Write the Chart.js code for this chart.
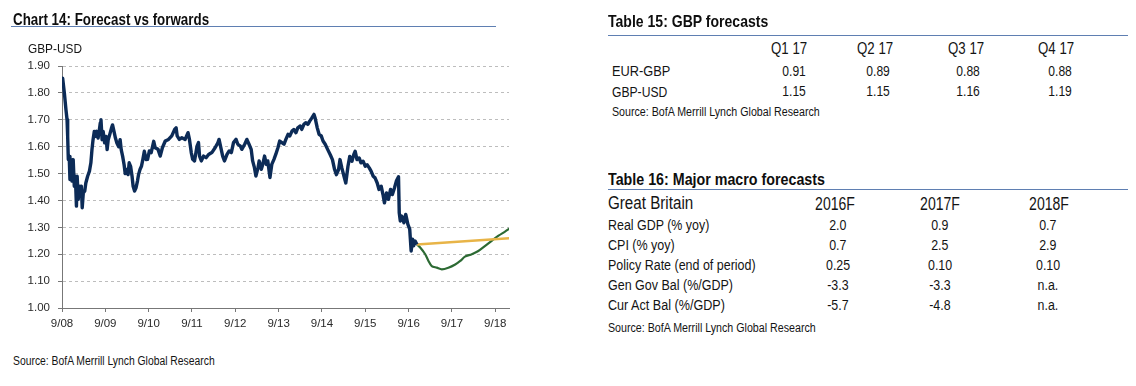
<!DOCTYPE html>
<html><head><meta charset="utf-8">
<script src="https://cdn.jsdelivr.net/npm/chart.js@4.4.1/dist/chart.umd.min.js"></script>
<style>
html,body{margin:0;padding:0;background:#fff;width:1136px;height:386px;overflow:hidden;}
body{position:relative;font-family:'Liberation Sans',Arial,sans-serif;color:#141414;}
.t{position:absolute;white-space:nowrap;line-height:1;}
.b{font-weight:bold;color:#0e0e0e;}
.rule{position:absolute;height:0;border-top:1.5px solid #5f7fb2;}
#c{position:absolute;left:0;top:0;}
</style></head><body>
<canvas id="c" width="520" height="345"></canvas>
<div class="rule" style="left:11px;top:26px;width:485px"></div>
<div class="rule" style="left:608px;top:35px;width:520px"></div>
<div class="rule" style="left:608px;top:188.5px;width:520px"></div>
<div id="texts"></div>
<script>
// ---- chart data (months since Sep 2008) ----
const tickLabels = ['9/08','9/09','9/10','9/11','9/12','9/13','9/14','9/15','9/16','9/17','9/18'];
const spotX = [0,0.18,0.65,1.1,1.4,1.57,1.75,2.0,2.2,2.5,2.77,3.1,3.4,3.7,4.0,4.2,4.5,4.8,5.1,5.35,5.6,5.9,6.3,6.6,7.1,7.6,8.0,8.3,8.6,8.95,9.2,9.6,10.0,10.3,10.6,10.8,11.1,11.4,11.8,12.2,12.5,12.8,13.2,13.7,14.0,14.4,14.8,15.2,15.7,16.1,16.4,16.8,17.2,17.5,17.9,18.3,18.6,19.0,19.4,19.7,20.1,20.5,20.9,21.2,21.6,22.0,22.3,22.8,23.3,23.7,24.2,24.7,25.4,25.8,26.6,27.2,27.8,28.6,29.5,30.4,31.2,31.6,31.9,32.5,33.2,34.1,34.9,35.3,35.8,36.2,36.7,37.4,37.8,38.1,38.6,39.2,39.9,40.6,41.5,42.4,43.2,43.5,43.9,44.5,45.0,45.7,46.3,46.9,47.5,48.2,48.7,49.4,49.8,50.6,51.2,51.8,52.4,52.8,53.3,53.7,54.3,54.6,55.2,55.6,56.1,56.6,57.0,57.6,58.1,58.7,59.2,59.8,60.3,60.9,61.5,62.0,62.6,63.1,63.7,64.2,64.8,65.3,66.0,66.4,67.0,67.5,68.1,68.6,69.2,69.8,70.1,70.7,71.2,71.8,72.3,72.9,73.6,74.3,74.9,75.5,76.0,76.6,77.0,77.5,78.1,78.6,79.2,79.7,80.3,80.8,81.2,81.7,82.3,82.8,83.4,84.0,84.5,85.1,85.6,86.2,86.7,87.3,87.8,88.4,88.9,89.3,89.9,90.4,91.0,91.5,92.1,92.6,93.2,93.4,93.7,94.1,94.7,95.2,95.8,96.3,96.7,97.1,97.4,97.8,98.3];
const spotY = [1.85,1.855,1.80,1.737,1.70,1.638,1.552,1.564,1.478,1.552,1.472,1.552,1.453,1.49,1.379,1.49,1.404,1.453,1.428,1.453,1.373,1.428,1.435,1.465,1.49,1.509,1.54,1.589,1.626,1.657,1.638,1.657,1.632,1.657,1.688,1.70,1.626,1.657,1.614,1.638,1.589,1.626,1.644,1.669,1.681,1.657,1.632,1.614,1.60,1.626,1.589,1.564,1.533,1.50,1.515,1.496,1.54,1.527,1.49,1.453,1.435,1.447,1.472,1.496,1.515,1.527,1.546,1.583,1.552,1.553,1.584,1.578,1.62,1.596,1.59,1.565,1.596,1.621,1.627,1.64,1.664,1.67,1.64,1.627,1.633,1.627,1.652,1.627,1.578,1.553,1.547,1.602,1.615,1.565,1.547,1.565,1.559,1.571,1.578,1.596,1.615,1.627,1.602,1.565,1.547,1.571,1.584,1.578,1.615,1.627,1.609,1.602,1.59,1.609,1.627,1.609,1.59,1.547,1.522,1.491,1.522,1.547,1.516,1.534,1.565,1.534,1.547,1.485,1.534,1.553,1.571,1.596,1.621,1.615,1.609,1.627,1.646,1.64,1.658,1.664,1.652,1.67,1.677,1.664,1.683,1.689,1.683,1.695,1.707,1.72,1.707,1.67,1.646,1.64,1.621,1.609,1.589,1.57,1.552,1.515,1.496,1.515,1.552,1.521,1.49,1.465,1.527,1.564,1.546,1.57,1.583,1.552,1.558,1.54,1.546,1.527,1.533,1.521,1.509,1.49,1.484,1.465,1.441,1.453,1.422,1.391,1.428,1.404,1.441,1.422,1.447,1.472,1.488,1.354,1.323,1.342,1.317,1.348,1.311,1.293,1.212,1.256,1.231,1.249,1.236];
const forwardX = [98.3,124];
const forwardY = [1.236,1.26];
const forecastX = [98.3,99.2,100.6,101.5,102.4,103.8,105.2,107.0,108.9,110.3,111.6,113.5,115.3,117.2,119.0,120.9,122.7,124.0];
const forecastY = [1.236,1.225,1.20,1.175,1.156,1.150,1.144,1.150,1.162,1.175,1.191,1.200,1.212,1.231,1.250,1.269,1.284,1.296];
const yTicks = [1.0,1.1,1.2,1.3,1.4,1.5,1.6,1.7,1.8,1.9];

const pts = (xs, ys) => xs.map((x, i) => ({x, y: ys[i]}));
const FONT = "'Liberation Sans',Arial,sans-serif";

new Chart(document.getElementById('c'), {
  type: 'line',
  data: { datasets: [
    { data: pts(spotX, spotY), borderColor: '#0c2b57', borderWidth: 3.4, pointRadius: 0, tension: 0, borderJoinStyle: 'round' },
    { data: pts(forwardX, forwardY), borderColor: '#e8b447', borderWidth: 2.5, pointRadius: 0, tension: 0 },
    { data: pts(forecastX, forecastY), borderColor: '#2c6a33', borderWidth: 2.2, pointRadius: 0, tension: 0.3 }
  ]},
  options: {
    responsive: false, animation: false,
    layout: { padding: { left: 0, right: 11, top: 66, bottom: 13 } },
    plugins: { legend: { display: false }, tooltip: { enabled: false } },
    scales: {
      x: {
        type: 'linear', min: 0, max: 123.8,
        afterBuildTicks: s => { s.ticks = tickLabels.map((_, i) => ({ value: i * 12 })); },
        afterFit: s => { s.height = 24; },
        ticks: { callback: v => tickLabels[Math.round(v / 12)], maxRotation: 0, autoSkip: false, padding: 5, color: '#2a2a2a', font: { family: FONT, size: 11.5 } },
        grid: { drawOnChartArea: false, drawTicks: true, tickLength: 4, color: '#777', tickColor: '#777' },
        border: { color: '#777', width: 1 }
      },
      y: {
        min: 1.0, max: 1.9,
        afterBuildTicks: s => { s.ticks = yTicks.map(v => ({ value: v })); },
        afterFit: s => { s.width = 62; },
        ticks: { callback: v => v.toFixed(2), padding: 8, color: '#2a2a2a', font: { family: FONT, size: 11.5 } },
        grid: { color: '#bdbdbd', tickLength: 4, tickColor: '#777', tickBorderDash: [4, 0] },
        border: { color: '#777', width: 1, dash: [3, 3] }
      }
    }
  }
});

// ---- text labels ----
const T = document.getElementById('texts');
function place(text, x, cy, size, o = {}) {
  const d = document.createElement('div');
  d.className = 't' + (o.bold ? ' b' : '');
  d.textContent = text;
  d.style.fontSize = size + 'px';
  d.style.left = x + 'px';
  d.style.top = (cy - 0.49 * size) + 'px';
  T.appendChild(d);
  let sx = o.sx || 0.82;
  if (o.w) sx = o.w / d.offsetWidth;
  d.style.transformOrigin = '0 0';
  if (o.center) d.style.transform = `translateX(${-d.offsetWidth * sx / 2}px) scaleX(${sx})`;
  else d.style.transform = `scaleX(${sx})`;
}
place('Chart 14: Forecast vs forwards', 12.5, 19, 16.5, { bold: true, w: 196 });
place('GBP-USD', 28, 49.5, 12.5, { w: 54 });
place('Source: BofA Merrill Lynch Global Research', 13, 360.5, 12, { w: 202 });

place('Table 15: GBP forecasts', 608, 21, 16.5, { bold: true, w: 160 });
const t15Cols = ['Q1 17','Q2 17','Q3 17','Q4 17'];
const t15HeadX = [788.8, 874.7, 965.8, 1055.8];
const t15ValX = [794, 878.3, 968.3, 1060];
t15Cols.forEach((c, i) => place(c, t15HeadX[i], 48.3, 17, { center: true, sx: 0.78 }));
const t15Rows = [['EUR-GBP', ['0.91','0.89','0.88','0.88'], 70.5], ['GBP-USD', ['1.15','1.15','1.16','1.19'], 91]];
t15Rows.forEach(r => {
  place(r[0], 612, r[2], 15, { w: r[0] === 'EUR-GBP' ? 58 : 55 });
  r[1].forEach((v, i) => place(v, t15ValX[i], r[2], 15.5, { center: true, sx: 0.78 }));
});
place('Source:  BofA Merrill Lynch Global Research', 612, 111.5, 12, { w: 208 });

place('Table 16: Major macro forecasts', 608, 179.5, 16.5, { bold: true, w: 217 });
place('Great Britain', 608.3, 203.5, 17.5, { w: 85 });
const t16Head = ['2016F','2017F','2018F'];
const t16HeadX = [835, 940, 1049];
const t16ValX = [838, 940, 1048];
t16Head.forEach((c, i) => place(c, t16HeadX[i], 203.5, 18, { center: true, sx: 0.78 }));
const t16Rows = [
  ['Real GDP (% yoy)', ['2.0','0.9','0.7'], 224.5, 101],
  ['CPI (% yoy)', ['0.7','2.5','2.9'], 245, 67],
  ['Policy Rate (end of period)', ['0.25','0.10','0.10'], 264.5, 148],
  ['Gen Gov Bal (%/GDP)', ['-3.3','-3.3','n.a.'], 284.5, 125],
  ['Cur Act Bal (%/GDP)', ['-5.7','-4.8','n.a.'], 304.5, 117]
];
t16Rows.forEach(r => {
  place(r[0], 608.3, r[2], 15.5, { w: r[3] });
  r[1].forEach((v, i) => place(v, t16ValX[i], r[2], 15.5, { center: true, sx: 0.8 }));
});
place('Source:  BofA Merrill Lynch Global Research', 608.3, 328, 12, { w: 208 });
</script>
</body></html>
